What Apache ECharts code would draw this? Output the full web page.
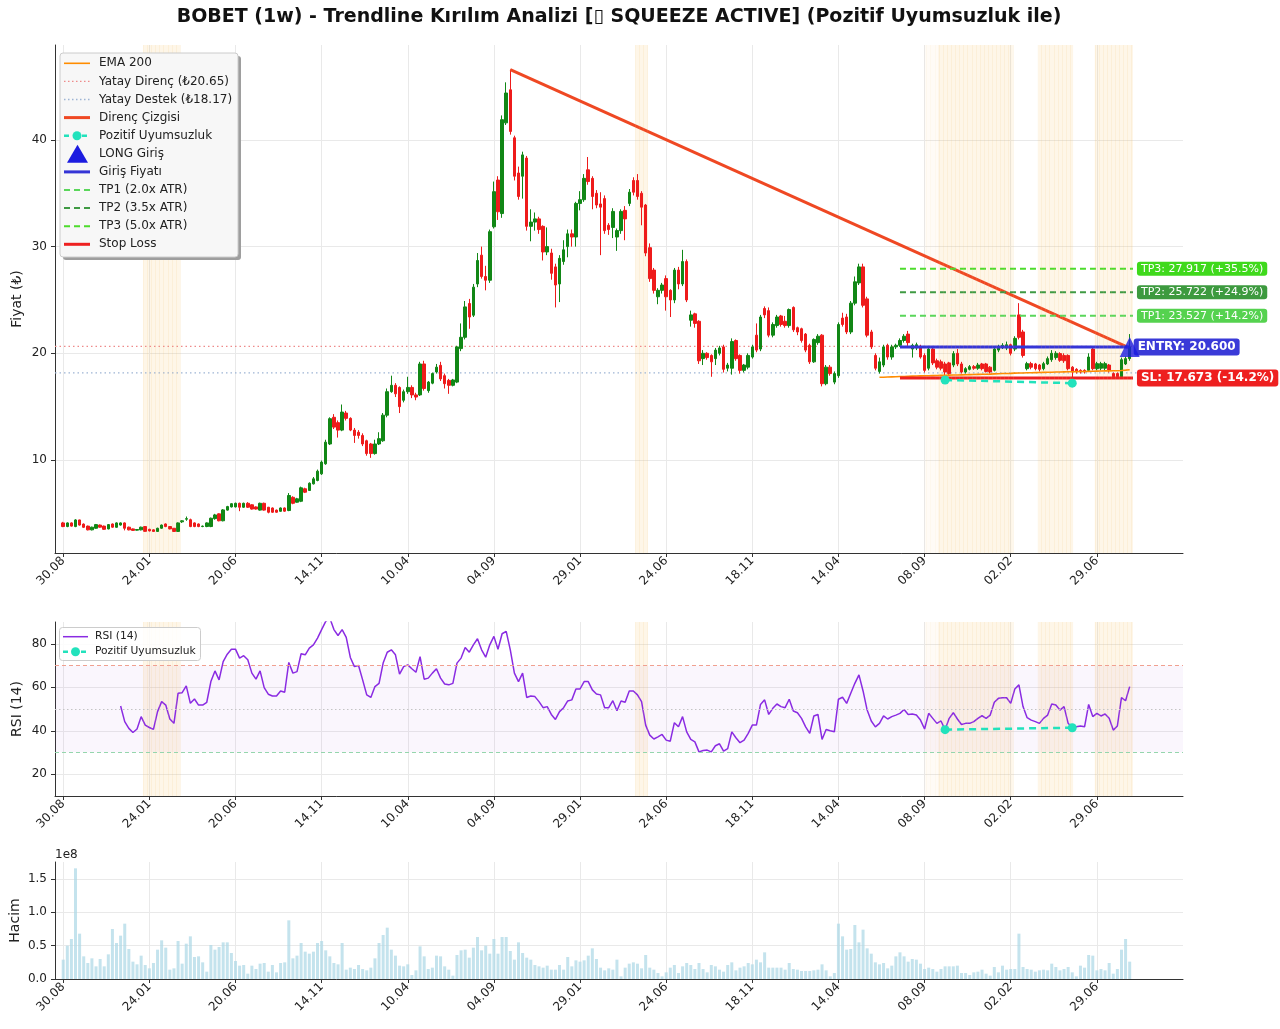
<!DOCTYPE html>
<html><head><meta charset="utf-8">
<script src="https://cdn.jsdelivr.net/npm/echarts@6/dist/echarts.min.js"></script>
<style>html,body{margin:0;padding:0;background:#fff}#c{width:1280px;height:1029px}</style>
</head><body><div id="c"></div><script>
// ---------------- DATA ----------------
const tickLabels = ['30.08','24.01','20.06','14.11','10.04','04.09','29.01','24.06','18.11','14.04','08.09','02.02','29.06'];
const tickStep = 21;

const opens = [
4.10,3.76,4.10,3.76,4.38,3.99,3.80,3.45,3.60,3.90,
3.80,3.54,4.00,3.69,3.90,4.10,3.70,3.54,3.42,3.45,
3.76,3.50,3.45,3.30,3.60,4.00,3.76,3.60,3.30,4.20,
4.45,4.40,4.10,4.00,3.76,3.76,3.76,4.50,4.95,4.30,
5.30,5.60,5.60,5.94,5.57,5.94,5.80,5.60,5.30,5.94,
5.57,5.50,5.30,5.19,5.50,5.26,6.50,6.04,6.13,7.30,
7.14,7.76,8.08,8.70,9.64,11.50,14.00,13.50,12.80,14.40,
13.90,12.80,12.60,12.30,11.80,11.50,10.60,11.50,11.80,14.20,
16.40,17.00,16.80,15.60,16.40,16.80,16.10,16.10,19.00,16.50,
17.20,18.25,18.87,17.90,17.46,17.00,17.30,20.44,21.50,24.67,
23.57,26.50,29.20,27.20,26.85,31.86,36.24,33.10,41.60,44.70,
40.20,36.90,36.60,38.30,31.90,32.30,32.60,31.90,29.50,29.40,
28.10,26.50,28.60,30.00,31.20,30.90,34.05,34.40,37.20,36.40,
35.00,34.00,34.50,32.00,31.80,30.90,31.50,33.40,34.05,36.20,
36.20,35.00,33.90,29.90,27.80,25.30,25.90,27.00,25.90,25.00,
27.80,26.50,28.60,23.10,23.70,23.00,19.50,20.00,19.80,19.50,
20.00,20.60,18.60,18.60,21.20,19.80,18.40,18.70,19.65,21.70,
20.40,24.20,24.00,21.70,22.60,23.50,23.00,22.60,24.30,22.40,
22.30,21.80,20.75,19.20,21.00,21.70,17.15,18.70,17.30,17.90,
23.30,23.40,22.00,24.70,26.60,28.10,25.10,22.00,19.80,18.30,
18.90,20.75,19.65,20.60,20.75,21.20,21.80,20.40,20.50,20.60,
19.80,18.60,20.40,19.30,19.20,19.00,19.10,18.90,20.00,19.00,
18.25,18.50,18.75,18.60,19.00,19.00,18.70,18.40,20.30,20.60,
20.50,20.80,20.40,23.60,22.00,18.56,19.03,19.00,18.90,18.56,
19.00,19.40,19.60,19.97,19.80,19.80,18.70,18.50,18.40,18.40,
18.40,20.40,18.56,18.60,18.60,18.90,18.10,18.10,17.80,19.00,
19.50];
const closes = [
3.76,4.10,3.80,4.38,3.90,3.69,3.45,3.70,3.94,3.70,
3.50,3.94,3.70,4.10,4.10,3.60,3.45,3.40,3.48,3.70,
3.31,3.35,3.30,3.60,3.90,3.76,3.54,3.30,4.10,4.30,
4.50,3.76,3.76,3.76,3.80,4.10,4.54,4.85,4.30,5.32,
5.63,5.90,5.94,5.57,5.94,5.57,5.40,5.40,5.94,5.30,
5.10,5.10,5.10,5.50,5.20,6.67,5.94,6.36,7.39,6.98,
7.82,8.23,8.95,9.80,11.67,13.87,13.08,12.80,14.49,13.90,
12.80,12.30,12.30,11.50,10.60,10.60,11.50,12.00,14.20,16.40,
17.00,16.20,15.00,16.40,16.80,16.10,15.90,19.00,16.70,17.30,
18.10,18.70,17.60,17.15,17.00,17.50,20.60,21.50,24.35,23.40,
26.20,28.70,27.20,26.85,31.40,35.15,33.27,41.90,44.40,40.80,
36.60,34.70,38.60,31.90,32.30,32.60,31.60,29.50,30.00,27.50,
26.40,28.90,29.70,31.20,30.90,34.05,34.40,36.40,36.10,34.70,
33.90,33.70,31.50,31.60,33.30,31.50,33.30,32.60,35.10,35.10,
34.70,33.70,29.40,27.00,25.90,25.90,26.40,25.30,25.00,27.80,
26.50,28.60,25.00,23.60,22.80,19.30,20.00,19.60,19.20,20.30,
20.50,18.50,18.90,21.10,19.50,18.40,18.90,19.80,20.60,20.30,
23.40,23.60,21.70,22.70,23.40,22.70,22.60,24.10,22.20,22.00,
21.20,20.30,19.20,21.30,21.60,17.15,18.70,18.10,18.10,22.70,
22.70,22.00,24.70,26.70,28.10,24.50,21.70,20.60,18.60,19.20,
20.60,19.65,20.60,20.75,21.20,21.60,21.00,20.75,20.80,19.65,
18.40,20.40,19.10,18.70,18.60,18.25,18.10,19.97,19.00,18.25,
18.56,18.75,18.60,18.90,18.56,18.30,18.25,20.40,20.60,20.75,
20.80,20.00,21.40,21.50,19.80,19.03,18.70,18.56,18.50,19.03,
19.50,20.00,20.00,19.34,19.30,18.56,18.25,18.30,18.25,18.25,
19.65,18.56,19.03,19.03,19.03,18.40,17.80,17.80,19.40,19.50,
20.60];
const highs = [
4.20,4.15,4.15,4.45,4.40,4.05,3.85,3.75,4.00,3.95,
3.85,3.98,4.05,4.15,4.15,4.15,3.75,3.58,3.52,3.75,
3.80,3.55,3.50,3.65,3.95,4.05,3.80,3.62,4.15,4.35,
4.70,4.50,4.15,4.05,3.85,4.15,4.60,4.95,5.00,5.40,
5.70,5.95,6.00,6.00,6.00,6.05,5.85,5.65,6.00,6.00,
5.60,5.55,5.35,5.55,5.55,6.90,6.60,6.45,7.50,7.40,
7.90,8.40,9.10,9.95,11.90,14.00,14.30,13.70,15.20,14.60,
14.00,13.00,12.80,12.50,11.90,11.60,11.90,12.60,14.40,16.70,
17.90,17.20,16.90,16.60,17.80,17.00,16.30,19.20,19.30,17.40,
18.20,19.00,19.20,18.10,17.60,17.60,20.70,22.80,24.90,25.10,
26.50,29.40,30.00,28.20,31.60,36.10,36.60,42.30,45.40,46.60,
40.40,37.50,38.90,38.50,33.50,33.20,32.80,32.00,31.80,29.80,
28.40,29.20,30.60,31.60,31.60,34.20,35.20,36.80,38.40,36.60,
35.30,35.10,34.80,32.20,33.60,31.70,33.50,33.80,35.40,36.50,
36.80,35.20,34.00,30.30,28.00,26.10,26.60,27.30,26.00,28.00,
28.10,29.70,28.80,24.00,23.80,23.10,20.30,20.10,19.90,20.50,
20.70,20.80,19.10,21.40,21.30,19.90,19.00,20.00,20.80,22.80,
23.60,24.40,24.30,22.90,23.60,23.60,23.50,24.20,24.40,22.50,
22.40,21.90,20.90,21.40,21.80,21.80,18.90,18.90,18.30,22.90,
23.80,23.70,24.90,27.20,28.40,28.40,25.30,22.20,20.00,19.60,
20.80,20.90,20.80,20.90,21.40,21.80,22.10,20.90,21.00,20.80,
20.00,20.50,20.60,19.50,19.40,19.20,19.20,20.20,20.40,19.20,
18.70,18.90,18.90,19.10,19.10,19.10,18.80,20.60,20.80,20.95,
21.10,20.90,21.60,24.70,22.20,19.20,19.20,19.10,19.00,19.20,
19.70,20.30,20.20,20.10,20.00,19.90,18.80,18.60,18.50,18.50,
20.00,20.50,19.20,19.20,19.20,19.00,18.20,18.20,19.60,19.70,
21.80];
const lows = [
3.70,3.70,3.75,3.70,3.85,3.62,3.40,3.40,3.55,3.65,
3.45,3.50,3.65,3.65,3.85,3.40,3.40,3.35,3.38,3.40,
3.28,3.30,3.25,3.27,3.55,3.70,3.50,3.25,3.28,4.10,
4.30,3.70,3.70,3.70,3.70,3.70,3.70,4.40,4.25,4.25,
5.25,5.55,5.55,5.20,5.50,5.50,5.35,5.35,5.25,5.25,
5.00,5.05,5.05,5.15,5.15,5.20,5.85,6.00,6.05,6.90,
7.10,7.70,8.00,8.60,9.55,11.40,12.90,12.10,12.70,13.70,
12.70,11.60,12.00,11.30,10.40,10.20,10.50,11.40,11.70,14.00,
16.30,15.90,14.40,15.40,16.20,15.80,15.60,16.00,16.50,16.30,
17.10,18.10,17.40,16.70,16.20,16.90,17.20,20.20,21.30,22.30,
23.40,26.20,27.00,25.90,26.60,31.70,32.50,32.70,41.40,40.50,
36.20,34.40,34.50,31.50,30.50,31.50,31.20,28.70,29.20,26.90,
24.30,24.80,28.30,29.00,30.00,30.00,33.40,34.20,35.80,33.50,
33.60,29.20,31.20,31.10,30.80,29.60,31.20,30.60,33.80,34.80,
34.40,32.00,29.10,26.70,25.60,24.60,25.60,24.00,23.40,24.70,
26.00,26.30,24.80,22.50,22.40,19.00,18.90,19.40,17.80,18.90,
19.80,18.20,18.30,18.00,19.30,18.10,18.20,18.50,19.50,20.10,
20.20,23.30,21.50,21.50,22.40,22.50,22.40,22.40,22.00,21.70,
21.00,20.10,19.00,19.10,20.80,16.90,17.00,17.90,17.10,17.70,
22.50,21.80,21.80,24.50,26.40,24.30,21.50,20.40,18.40,18.10,
18.70,19.40,19.40,20.40,20.60,21.00,20.70,19.60,20.30,19.50,
18.20,18.40,18.90,18.50,18.40,17.50,17.90,18.70,18.80,18.10,
18.10,18.40,18.45,18.45,18.40,18.20,18.10,18.30,20.10,20.40,
20.30,19.80,20.20,21.30,19.60,18.40,18.50,18.40,18.30,18.40,
18.90,19.20,19.40,19.20,19.10,18.40,17.20,18.10,18.10,18.10,
18.30,18.40,18.40,18.40,18.40,18.20,17.60,17.60,17.60,18.90,
19.30];
// weekly volume, in units of 1e8
const volumes = [
0.29,0.50,0.60,1.66,0.68,0.34,0.24,0.31,0.19,0.30,
0.19,0.37,0.75,0.54,0.65,0.83,0.45,0.26,0.22,0.35,
0.21,0.16,0.24,0.44,0.58,0.47,0.14,0.16,0.57,0.23,
0.53,0.64,0.33,0.34,0.25,0.11,0.51,0.44,0.48,0.55,
0.55,0.39,0.27,0.20,0.21,0.08,0.20,0.15,0.23,0.24,
0.11,0.21,0.10,0.24,0.25,0.88,0.31,0.35,0.54,0.41,
0.38,0.41,0.54,0.57,0.43,0.34,0.24,0.22,0.54,0.14,
0.17,0.15,0.21,0.15,0.13,0.17,0.31,0.54,0.66,0.77,
0.44,0.35,0.20,0.19,0.22,0.06,0.13,0.49,0.34,0.15,
0.17,0.35,0.34,0.19,0.14,0.05,0.36,0.43,0.44,0.32,
0.47,0.63,0.43,0.50,0.38,0.60,0.38,0.63,0.63,0.42,
0.29,0.55,0.39,0.32,0.29,0.21,0.19,0.17,0.20,0.14,
0.14,0.21,0.14,0.33,0.19,0.28,0.26,0.28,0.35,0.46,
0.30,0.17,0.13,0.16,0.14,0.29,0.04,0.17,0.23,0.25,
0.23,0.16,0.36,0.17,0.14,0.09,0.04,0.10,0.17,0.21,
0.09,0.19,0.24,0.21,0.15,0.24,0.15,0.10,0.21,0.19,
0.14,0.11,0.21,0.25,0.13,0.17,0.19,0.24,0.22,0.29,
0.25,0.40,0.17,0.17,0.17,0.17,0.14,0.24,0.15,0.14,
0.12,0.12,0.12,0.13,0.14,0.22,0.13,0.04,0.09,0.83,
0.64,0.44,0.45,0.81,0.55,0.74,0.46,0.38,0.25,0.22,
0.24,0.16,0.20,0.34,0.40,0.34,0.26,0.30,0.29,0.23,
0.15,0.17,0.15,0.11,0.15,0.19,0.19,0.19,0.20,0.09,
0.09,0.06,0.10,0.11,0.14,0.08,0.05,0.18,0.10,0.20,
0.14,0.15,0.15,0.68,0.18,0.15,0.14,0.11,0.13,0.14,
0.13,0.23,0.18,0.13,0.15,0.18,0.10,0.04,0.20,0.17,
0.36,0.35,0.13,0.15,0.13,0.24,0.08,0.15,0.44,0.60,
0.26];
const rsiStart = 14;
const rsiValues = [
51.4,44.2,41.1,39.2,40.8,46.5,42.6,41.5,40.6,48.8,
53.4,51.8,45.4,43.4,57.2,57.5,60.6,52.6,54.6,51.8,
51.8,53.1,62.6,67.5,63.4,71.8,75.2,77.5,77.5,73.4,
74.5,72.6,66.5,63.7,67.5,59.8,56.8,56.0,56.0,58.3,
57.7,71.4,66.5,67.2,75.4,74.9,78.0,79.5,82.6,86.5,
90.3,91.8,86.5,83.8,86.5,82.9,73.7,69.5,70.0,63.4,
56.5,55.3,60.3,61.8,71.1,76.1,77.2,74.9,66.0,69.5,
70.3,68.5,66.9,74.1,63.7,64.2,66.5,68.5,64.2,61.5,
61.1,61.8,71.1,73.4,78.3,76.1,79.5,82.3,77.2,73.8,
79.5,83.4,77.5,84.6,85.7,77.2,66.5,62.6,66.5,55.3,
56.0,55.7,53.4,50.6,51.1,47.5,45.2,48.8,50.6,53.7,
54.2,59.2,59.2,62.6,62.6,58.8,56.9,56.5,50.6,50.6,
53.8,
49.2,53.7,53.1,58.3,58.3,
56.5,53.4,42.6,38.0,36.2,37.2,38.3,35.7,35.2,43.7,
41.8,46.5,39.5,36.0,34.9,30.3,30.9,31.1,30.3,33.1,
34.0,30.6,31.8,39.5,36.8,34.5,35.7,38.8,42.6,42.6,
52.1,54.2,47.5,50.3,52.3,51.1,50.6,54.5,49.1,48.3,
45.7,41.8,38.8,46.8,47.5,36.0,40.6,40.0,39.5,54.5,
55.4,52.6,57.2,61.8,65.7,58.3,49.5,44.5,41.8,43.4,
46.8,45.4,46.5,47.2,48.0,49.8,47.5,47.7,47.2,44.9,
40.8,48.0,45.7,43.4,44.5,40.5,45.7,48.3,45.4,42.9,
43.4,43.4,44.2,45.7,46.9,45.7,47.2,53.1,54.9,55.2,
55.2,52.6,59.2,61.1,51.1,46.0,44.9,44.2,43.4,45.7,
47.2,52.3,51.8,49.5,51.1,43.4,41.4,41.8,42.2,41.8,
52.1,46.5,48.0,46.8,47.7,45.7,40.3,42.2,55.2,53.8,
60.3];
const emaStart = 199;
const emaValues = [
17.75,17.76,17.78,17.79,17.80,17.82,17.83,17.85,17.86,17.87,
17.88,17.89,17.90,17.91,17.92,17.93,17.94,17.95,17.96,17.97,
17.98,17.99,18.00,18.01,18.02,18.03,18.04,18.05,18.07,18.08,
18.10,18.11,18.12,18.14,18.15,18.16,18.17,18.18,18.19,18.20,
18.21,18.22,18.23,18.24,18.25,18.26,18.27,18.27,18.28,18.29,
18.30,18.31,18.32,18.33,18.34,18.35,18.35,18.36,18.37,18.39,
18.42,18.46];
const trendLine = [[109, 46.6], [259.6, 20.55]];
const yatayDirenc = 20.65;
const yatayDestek = 18.17;
const divergencePrice = [[215, 17.5], [246, 17.2]];
const divergenceRsi = [[215, 40.5], [246, 41.4]];
const entryPrice = 20.6;
const stopLoss = 17.673;
const tpLevels = [23.527, 25.722, 27.917];
const tpTexts = ['TP1: 23.527 (+14.2%)', 'TP2: 25.722 (+24.9%)', 'TP3: 27.917 (+35.5%)'];
const entryText = 'ENTRY: 20.600';
const slText = 'SL: 17.673 (-14.2%)';
const levelRange = [204, 260.8];
const squeezeZones = [[19.5, 28.5], [139.5, 142.5], [210, 213.3], [213.3, 231.5], [237.6, 246.2], [251.5, 260.8]];
const squeezeStrength = [1, 1, 0.4, 1, 1, 1];
const mainLegendNames = ['EMA 200', 'Yatay Direnç (₺20.65)', 'Yatay Destek (₺18.17)', 'Direnç Çizgisi', 'Pozitif Uyumsuzluk', 'LONG Giriş', 'Giriş Fiyatı', 'TP1 (2.0x ATR)', 'TP2 (3.5x ATR)', 'TP3 (5.0x ATR)', 'Stop Loss'];
const rsiLegendNames = ['RSI (14)', 'Pozitif Uyumsuzluk'];
const titleText = 'BOBET (1w) - Trendline Kırılım Analizi [\u25AF SQUEEZE ACTIVE] (Pozitif Uyumsuzluk ile)';

// ---------------- STYLE ----------------
const FONT = 'DejaVu Sans';
const C = {
  up: '#118716', down: '#ee1b1b', ema: '#ff8c00', direnc: '#ee8a8a', destek: '#9db4d4',
  trend: '#ef4823', div: '#22e2bc', tri: '#1c1ce0', entry: '#3535d6', sl: '#ee2020',
  tp: ['#5ad65a', '#3f9a43', '#4ddc2c'], tpBg: ['#55d24f', '#3d9a3f', '#3fd91c'],
  rsi: '#8a2be2', grid: '#e9e9e9', axis: '#333', text: '#222'
};
const X_MIN = -2, X_MAX = 273;
const nCats = X_MAX - X_MIN + 1;
const cats = Array.from({length: nCats}, (_, k) => String(k + X_MIN));
const isTick = (k) => { const i = k + X_MIN; return i >= 0 && i % tickStep === 0 && i / tickStep < tickLabels.length; };

function catAxis(gi) {
  return {
    type: 'category', gridIndex: gi, data: cats, boundaryGap: false,
    axisLine: {onZero: false, lineStyle: {color: C.axis, width: 1}},
    axisTick: {interval: (idx) => isTick(idx), length: 4, lineStyle: {color: C.axis}},
    axisLabel: {interval: (idx) => isTick(idx), rotate: 45, margin: 6, fontSize: 12, color: C.text, fontFamily: FONT,
      formatter: (v) => tickLabels[Number(v) / tickStep] || ''},
    splitLine: {show: true, interval: (idx) => isTick(idx), lineStyle: {color: C.grid, width: 1}}
  };
}
function valAxisX(gi) { return {type: 'value', gridIndex: gi, min: X_MIN, max: X_MAX, show: false, axisLine: {onZero: false}}; }
function yAx(gi, min, max, name, gap, fmt, showMin, interval) {
  const ax = {
    type: 'value', gridIndex: gi, min, max, name, nameLocation: 'middle', nameGap: gap, nameMoveOverlap: false,
    nameTextStyle: {fontSize: 14, color: C.text, fontFamily: FONT},
    axisLine: {show: true, onZero: false, lineStyle: {color: C.axis, width: 1}},
    axisTick: {show: true, length: 4, lineStyle: {color: C.axis}},
    axisLabel: {showMinLabel: showMin, showMaxLabel: false, fontSize: 12, color: C.text, fontFamily: FONT, formatter: fmt},
    splitLine: {show: true, showMinLine: false, showMaxLine: false, lineStyle: {color: C.grid, width: 1}}
  };
  if (interval) ax.interval = interval;
  return ax;
}

const candleData = closes.map((c, i) => [i - X_MIN, opens[i], c, lows[i], highs[i]]);
const volData = volumes.map((v, i) => [i - X_MIN, v]);
const rsiData = rsiValues.map((v, i) => [i + rsiStart, v]);
const emaData = emaValues.map((v, i) => [i + emaStart, v]);
const lastIdx = closes.length - 1;

const squeezeAreas = squeezeZones.map((z, k) => [
  {xAxis: z[0], itemStyle: {color: `rgba(248,200,120,${0.17 * squeezeStrength[k]})`}}, {xAxis: z[1]}]);
// faint per-candle stripes inside squeeze zones
const stripeLines = [];
squeezeZones.forEach((z, k) => {
  for (let b = Math.ceil(z[0] - 0.5) + 0.5; b <= z[1]; b += 1) {
    stripeLines.push({xAxis: b, lineStyle: {color: `rgba(240,190,105,${0.13 * squeezeStrength[k]})`, width: 1, type: 'solid'}});
  }
});

function levelLine(value, color, dash, width, label, bg, bold, fs) {
  return {
    type: 'line', xAxisIndex: 1, yAxisIndex: 0, silent: true, z: 4, symbol: 'none',
    data: [[levelRange[0], value], [levelRange[1], value]],
    lineStyle: {color, width, type: dash},
    endLabel: {show: true, formatter: label, color: '#fff', backgroundColor: bg, padding: bold ? [3, 4, 2, 4] : [2, 4, 1, 4],
      borderRadius: 3, fontSize: fs, fontWeight: bold ? 'bold' : 'normal', fontFamily: FONT, distance: 4}
  };
}

const series = [
  // squeeze zones (price)
  {type: 'line', xAxisIndex: 1, yAxisIndex: 0, data: [], silent: true,
    markArea: {silent: true, data: squeezeAreas},
    markLine: {silent: true, symbol: 'none', label: {show: false}, data: stripeLines}},
  // horizontal S/R
  {type: 'line', xAxisIndex: 1, yAxisIndex: 0, symbol: 'none', silent: true, z: 1,
    data: [[X_MIN, yatayDirenc], [X_MAX, yatayDirenc]], lineStyle: {color: C.direnc, width: 1.3, type: [1.5, 3]}},
  {type: 'line', xAxisIndex: 1, yAxisIndex: 0, symbol: 'none', silent: true, z: 1,
    data: [[X_MIN, yatayDestek], [X_MAX, yatayDestek]], lineStyle: {color: C.destek, width: 1.3, type: [1.5, 3]}},
  // candles
  {type: 'candlestick', xAxisIndex: 0, yAxisIndex: 0, data: candleData, encode: {x: 0, y: [1, 2, 3, 4]},
    barWidth: 3, z: 2,
    itemStyle: {color: C.up, color0: C.down, borderColor: C.up, borderColor0: C.down, borderWidth: 1}},
  // EMA 200
  {type: 'line', xAxisIndex: 1, yAxisIndex: 0, symbol: 'none', silent: true, z: 3,
    data: emaData, lineStyle: {color: C.ema, width: 1.6}},
  // resistance trendline
  {type: 'line', xAxisIndex: 1, yAxisIndex: 0, symbol: 'none', silent: true, z: 3,
    data: trendLine, lineStyle: {color: C.trend, width: 3}},
  // divergence on price
  {type: 'line', xAxisIndex: 1, yAxisIndex: 0, silent: true, z: 5, symbol: 'circle', symbolSize: 9, showSymbol: true,
    data: divergencePrice, itemStyle: {color: C.div}, lineStyle: {color: C.div, width: 2.5, type: [7, 5]}},
  // levels
  levelLine(tpLevels[2], C.tp[2], [6, 4], 2, tpTexts[2], C.tpBg[2], false, 11),
  levelLine(tpLevels[1], C.tp[1], [6, 4], 2, tpTexts[1], C.tpBg[1], false, 11),
  levelLine(tpLevels[0], C.tp[0], [6, 4], 2, tpTexts[0], C.tpBg[0], false, 11),
  levelLine(stopLoss, C.sl, 'solid', 3, slText, C.sl, true, 12),
  Object.assign(levelLine(entryPrice, C.entry, 'solid', 3, entryText, '#3a3ad8', true, 12),
    {data: [[levelRange[0], entryPrice], [lastIdx, entryPrice]]}),
  // LONG entry marker
  {type: 'scatter', xAxisIndex: 1, yAxisIndex: 0, silent: true, z: 8, symbol: 'triangle', symbolSize: 20,
    data: [[lastIdx, entryPrice]], itemStyle: {color: C.tri}},
  // RSI panel: squeeze zones + neutral band
  {type: 'line', xAxisIndex: 3, yAxisIndex: 1, data: [], silent: true,
    markArea: {silent: true, data: squeezeAreas.concat([[{yAxis: 30, itemStyle: {color: 'rgba(160,80,220,0.05)'}}, {yAxis: 70}]])},
    markLine: {silent: true, symbol: 'none', label: {show: false},
      data: stripeLines.concat([
        {yAxis: 70, lineStyle: {color: '#f0a090', width: 1, type: [4, 3]}},
        {yAxis: 50, lineStyle: {color: '#c4c4c4', width: 1, type: [1.5, 2.5]}},
        {yAxis: 30, lineStyle: {color: '#95d6ad', width: 1, type: [4, 3]}}
      ])}},
  {type: 'line', xAxisIndex: 3, yAxisIndex: 1, symbol: 'none', silent: true, z: 3,
    data: rsiData, lineStyle: {color: C.rsi, width: 1.5}},
  {type: 'line', xAxisIndex: 3, yAxisIndex: 1, silent: true, z: 5, symbol: 'circle', symbolSize: 9, showSymbol: true,
    data: divergenceRsi, itemStyle: {color: C.div}, lineStyle: {color: C.div, width: 2.5, type: [7, 5]}},
  // volume
  {type: 'bar', xAxisIndex: 4, yAxisIndex: 2, data: volData, barWidth: 3, silent: true,
    itemStyle: {color: 'rgba(173,216,230,0.72)'}}
];

// ---------------- LEGENDS / TEXT (graphics) ----------------
const graphics = [];
graphics.push({type: 'text', x: 619, y: 17, style: {text: titleText, font: `bold 19px "${FONT}"`, fill: '#111', align: 'center', verticalAlign: 'middle'}});
graphics.push({type: 'text', x: 55, y: 855, style: {text: '1e8', font: `12px "${FONT}"`, fill: C.text, align: 'left', verticalAlign: 'middle'}});
// main legend
graphics.push({type: 'rect', shape: {x: 63, y: 56, width: 178, height: 204, r: 3}, style: {fill: '#9e9e9e'}, z: 100});
graphics.push({type: 'rect', shape: {x: 60, y: 53, width: 178, height: 204, r: 3}, style: {fill: '#f7f7f7', stroke: '#cccccc', lineWidth: 1}, z: 101});
const handles = [
  {k: 'line', stroke: C.ema, w: 1.6},
  {k: 'line', stroke: C.direnc, w: 1.4, dash: [1.5, 2.5]},
  {k: 'line', stroke: C.destek, w: 1.4, dash: [1.5, 2.5]},
  {k: 'line', stroke: C.trend, w: 3},
  {k: 'div'},
  {k: 'tri'},
  {k: 'line', stroke: C.entry, w: 3},
  {k: 'line', stroke: C.tp[0], w: 2, dash: [6, 4]},
  {k: 'line', stroke: C.tp[1], w: 2, dash: [6, 4]},
  {k: 'line', stroke: C.tp[2], w: 2, dash: [6, 4]},
  {k: 'line', stroke: C.sl, w: 3}
];
mainLegendNames.forEach((name, k) => {
  const y = 63.3 + k * 18.1;
  const h = handles[k];
  if (h.k === 'line') {
    graphics.push({type: 'line', shape: {x1: 64, y1: y, x2: 90, y2: y}, style: {stroke: h.stroke, lineWidth: h.w, lineDash: h.dash || null}, z: 102});
  } else if (h.k === 'div') {
    graphics.push({type: 'line', shape: {x1: 64, y1: y, x2: 90, y2: y}, style: {stroke: C.div, lineWidth: 2.5, lineDash: [5, 4]}, z: 102});
    graphics.push({type: 'circle', shape: {cx: 77, cy: y, r: 4.5}, style: {fill: C.div}, z: 103});
  } else {
    graphics.push({type: 'polygon', shape: {points: [[77.5, y - 9], [67, y + 9], [88, y + 9]]}, style: {fill: C.tri}, z: 102});
  }
  graphics.push({type: 'text', x: 99, y: y, style: {text: name, font: `12px "${FONT}"`, fill: C.text, verticalAlign: 'middle'}, z: 103});
});
// RSI legend
graphics.push({type: 'rect', shape: {x: 59.5, y: 627.5, width: 141, height: 33, r: 3}, style: {fill: 'rgba(255,255,255,0.85)', stroke: '#cccccc', lineWidth: 1}, z: 100});
graphics.push({type: 'line', shape: {x1: 63, y1: 636.7, x2: 88, y2: 636.7}, style: {stroke: C.rsi, lineWidth: 1.5}, z: 101});
graphics.push({type: 'line', shape: {x1: 63, y1: 651.7, x2: 88, y2: 651.7}, style: {stroke: C.div, lineWidth: 2.5, lineDash: [5, 4]}, z: 101});
graphics.push({type: 'circle', shape: {cx: 75.5, cy: 651.7, r: 4.5}, style: {fill: C.div}, z: 102});
rsiLegendNames.forEach((name, k) => {
  graphics.push({type: 'text', x: 95, y: 636.7 + k * 15, style: {text: name, font: `10.7px "${FONT}"`, fill: C.text, verticalAlign: 'middle'}, z: 102});
});

const option = {
  animation: false,
  backgroundColor: '#fff',
  textStyle: {fontFamily: FONT},
  grid: [
    {left: 55, right: 97, top: 45, height: 508, containLabel: false, outerBoundsMode: 'none'},
    {left: 55, right: 97, top: 622, height: 174, containLabel: false, outerBoundsMode: 'none'},
    {left: 55, right: 97, top: 862, height: 117, containLabel: false, outerBoundsMode: 'none'}
  ],
  xAxis: [catAxis(0), valAxisX(0), catAxis(1), valAxisX(1), catAxis(2)],
  yAxis: [
    yAx(0, 1.28, 48.9, 'Fiyat (₺)', 31, (v) => (v % 10 === 0 ? String(v) : ''), false),
    yAx(1, 10, 90, 'RSI (14)', 31, (v) => (v % 20 === 0 ? String(v) : ''), false),
    yAx(2, 0, 1.755, 'Hacim', 33, (v) => v.toFixed(1), true, 0.5)
  ],
  series,
  graphic: graphics
};
const chart = echarts.init(document.getElementById('c'), null, {renderer: 'canvas'});
chart.setOption(option);
</script></body></html>
